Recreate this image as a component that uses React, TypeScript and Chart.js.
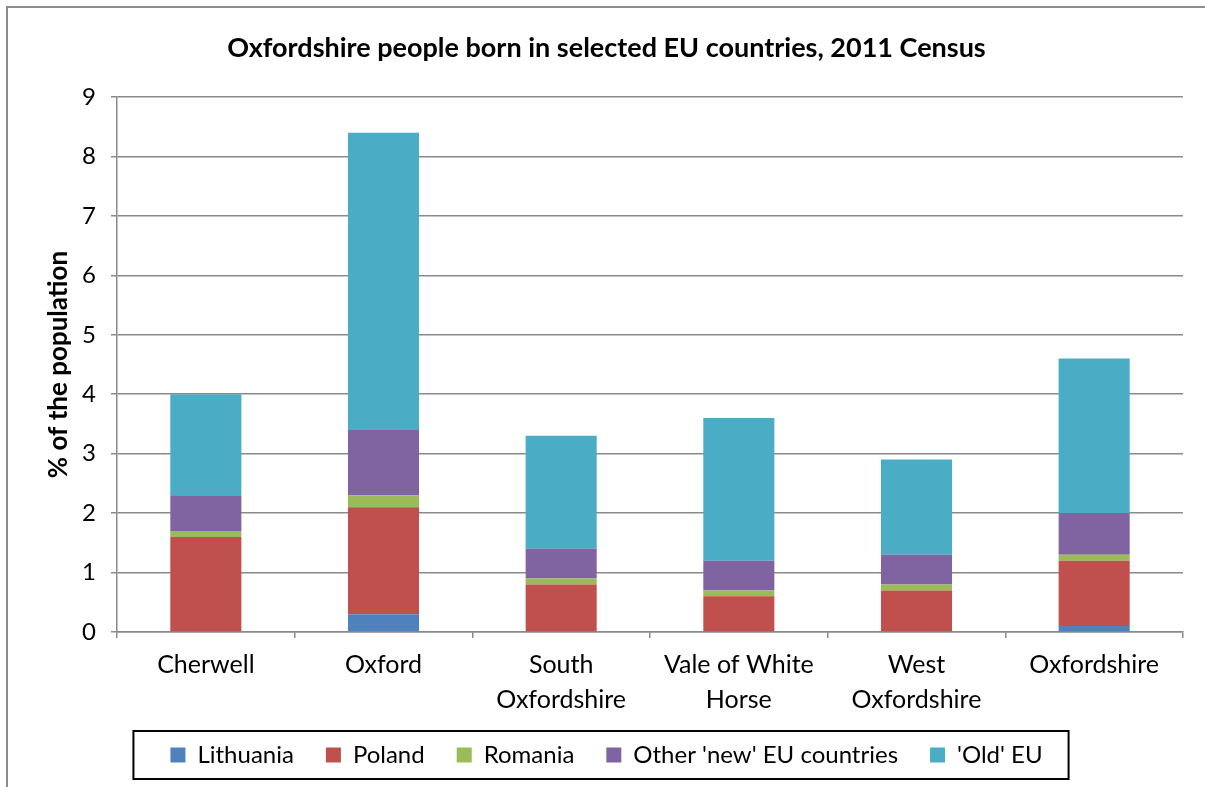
import React, { useEffect, useRef } from "react";
import { Chart, registerables } from "chart.js";

Chart.register(...registerables);

const categories: (string | string[])[] = [
  "Cherwell",
  "Oxford",
  ["South", "Oxfordshire"],
  ["Vale of White", "Horse"],
  ["West", "Oxfordshire"],
  "Oxfordshire",
];

const lithuania = [0, 0.3, 0, 0, 0, 0.1];
const poland = [1.6, 1.8, 0.8, 0.6, 0.7, 1.1];
const romania = [0.1, 0.2, 0.1, 0.1, 0.1, 0.1];
const otherNew = [0.6, 1.1, 0.5, 0.5, 0.5, 0.7];
const oldEU = [1.7, 5.0, 1.9, 2.4, 1.6, 2.6];

const seriesNames = ["Lithuania", "Poland", "Romania", "Other 'new' EU countries", "'Old' EU"];
const seriesColors = ["#4F81BD", "#C0504D", "#9BBB59", "#8064A2", "#4BACC6"];

const titleText = "Oxfordshire people born in selected EU countries, 2011 Census";
const yTitle = "% of the population";

const FONT = "Lato, 'Open Sans', sans-serif";
const GRID = "#8a8a8a";

const legendFrame = {
  id: "legendFrame",
  afterDraw(chart: any) {
    const boxes = chart.legend?.legendHitBoxes;
    if (!boxes || !boxes.length) return;
    let minX = Infinity, maxX = -Infinity, cy = 0;
    boxes.forEach((h: any) => {
      minX = Math.min(minX, h.left);
      maxX = Math.max(maxX, h.left + h.width);
      cy = h.top + h.height / 2;
    });
    const ctx = chart.ctx;
    ctx.save();
    ctx.strokeStyle = "#000";
    ctx.lineWidth = 2;
    ctx.strokeRect(minX - 37, cy - 24, maxX - minX + 63, 48);
    ctx.restore();
  },
};

export default function App() {
  const ref = useRef<HTMLCanvasElement>(null);
  useEffect(() => {
    if (!ref.current) return;
    const data = [lithuania, poland, romania, otherNew, oldEU];
    const chart = new Chart(ref.current, {
      type: "bar",
      data: {
        labels: categories,
        datasets: data.map((d, i) => ({
          label: seriesNames[i],
          data: d,
          backgroundColor: seriesColors[i],
          borderWidth: 0,
          barPercentage: 0.4,
          categoryPercentage: 1,
        })),
      },
      options: {
        responsive: false,
        animation: false,
        layout: { padding: { left: 0, right: 0, top: 0, bottom: 10 } },
        plugins: {
          title: {
            display: true,
            text: titleText,
            color: "#000",
            font: { family: FONT, size: 27, weight: "bold" },
            padding: { top: 24, bottom: 32.6 },
          },
          legend: {
            position: "bottom",
            labels: {
              color: "#000",
              font: { family: FONT, size: 24 },
              boxWidth: 15,
              boxHeight: 15,
              padding: 32,
            },
          },
          tooltip: { enabled: false },
        },
        scales: {
          x: {
            stacked: true,
            grid: {
              drawOnChartArea: false,
              drawTicks: true,
              tickLength: 6,
              color: GRID,
              lineWidth: 1.5,
            },
            border: { color: GRID, width: 1.5 },
            ticks: {
              color: "#000",
              font: { family: FONT, size: 25, lineHeight: 1.38 },
              padding: 10,
              maxRotation: 0,
              autoSkip: false,
            },
            afterFit(scale: any) {
              scale.height = 79;
              scale._computeLabelArea = () => undefined;
            },
          },
          y: {
            stacked: true,
            min: 0,
            max: 9,
            grid: { color: GRID, lineWidth: 1.5, tickLength: 6 },
            border: { color: GRID, width: 1.5 },
            ticks: {
              stepSize: 1,
              color: "#000",
              font: { family: FONT, size: 24 },
              padding: 15,
            },
            title: {
              display: true,
              text: yTitle,
              color: "#000",
              font: { family: FONT, size: 26, weight: "bold" },
              padding: { top: 35, bottom: 0 },
            },
            afterFit(scale: any) {
              scale.width = 109;
            },
          },
          spacer: {
            type: "linear",
            position: "right",
            display: true,
            grid: { display: false, drawTicks: false },
            border: { display: false },
            ticks: { display: false },
            afterFit(scale: any) {
              scale.width = 22;
            },
          },
        },
      },
      plugins: [legendFrame],
    });
    return () => chart.destroy();
  }, []);

  return (
    <div
      style={{
        position: "absolute",
        left: 6,
        top: 6,
        width: 1197,
        height: 779,
        borderLeft: "2px solid #8c8c8c",
        borderTop: "2px solid #8c8c8c",
        background: "#fff",
      }}
    >
      <canvas ref={ref} width={1197} height={779} style={{ display: "block" }} />
    </div>
  );
}
